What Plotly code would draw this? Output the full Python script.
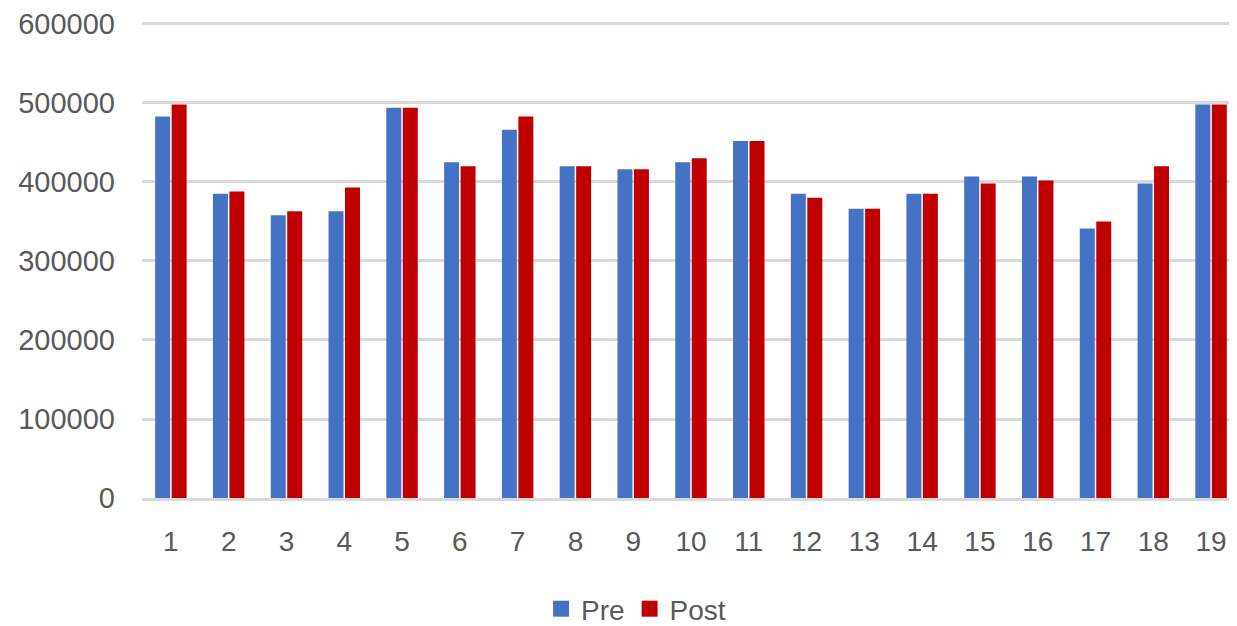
import plotly.graph_objects as go

categories = [str(i) for i in range(1, 20)]
pre_values = [483000, 385000, 358000, 363000, 494000, 425000, 466000, 420000, 416000, 425000,
              452000, 385000, 366000, 385000, 407000, 407000, 341000, 398000, 498000]
post_values = [498000, 388000, 363000, 393000, 494000, 420000, 483000, 420000, 416000, 430000,
               452000, 380000, 366000, 385000, 398000, 402000, 350000, 420000, 498000]
y_ticks = [0, 100000, 200000, 300000, 400000, 500000, 600000]

FONT = "Liberation Sans"
GRAY = "#595959"
PRE_C = "#4472C4"
POST_C = "#C00000"

fig = go.Figure()
fig.add_trace(go.Bar(x=categories, y=pre_values, name="Pre", marker_color=PRE_C,
                     marker_line_width=0, showlegend=False))
fig.add_trace(go.Bar(x=categories, y=post_values, name="Post", marker_color=POST_C,
                     marker_line_width=0, showlegend=False))
# legend entries with larger square swatches
fig.add_trace(go.Scatter(x=[None], y=[None], mode="markers", name="Pre",
                         marker=dict(symbol="square", size=18, color=PRE_C)))
fig.add_trace(go.Scatter(x=[None], y=[None], mode="markers", name="Post",
                         marker=dict(symbol="square", size=18, color=POST_C)))

fig.update_layout(
    width=1221, height=626,
    margin=dict(l=134, r=0, t=14, b=121),
    paper_bgcolor="white", plot_bgcolor="white",
    barmode="group", bargap=0.43, bargroupgap=0.09,
    font=dict(family=FONT, size=28, color=GRAY),
    showlegend=True,
    legend=dict(orientation="h", x=0.4545, xanchor="center", y=-0.234, yanchor="middle",
                font=dict(family=FONT, size=28, color=GRAY), itemwidth=30,
                tracegroupgap=0),
)
fig.update_xaxes(showgrid=False, showline=True, linecolor="#D9D9D9", linewidth=3,
                 range=[-0.5, 18.31],
                 ticks="", ticklabelstandoff=16, automargin=False,
                 tickfont=dict(size=28, color=GRAY))
fig.update_yaxes(range=[0, 602500], tickvals=y_ticks, ticktext=[str(v) for v in y_ticks],
                 showgrid=True, gridcolor="#D9D9D9", gridwidth=3, zeroline=False,
                 showline=False, ticks="", ticklabelstandoff=26, automargin=False,
                 tickfont=dict(size=29, color=GRAY))

fig.write_html("out.html")
